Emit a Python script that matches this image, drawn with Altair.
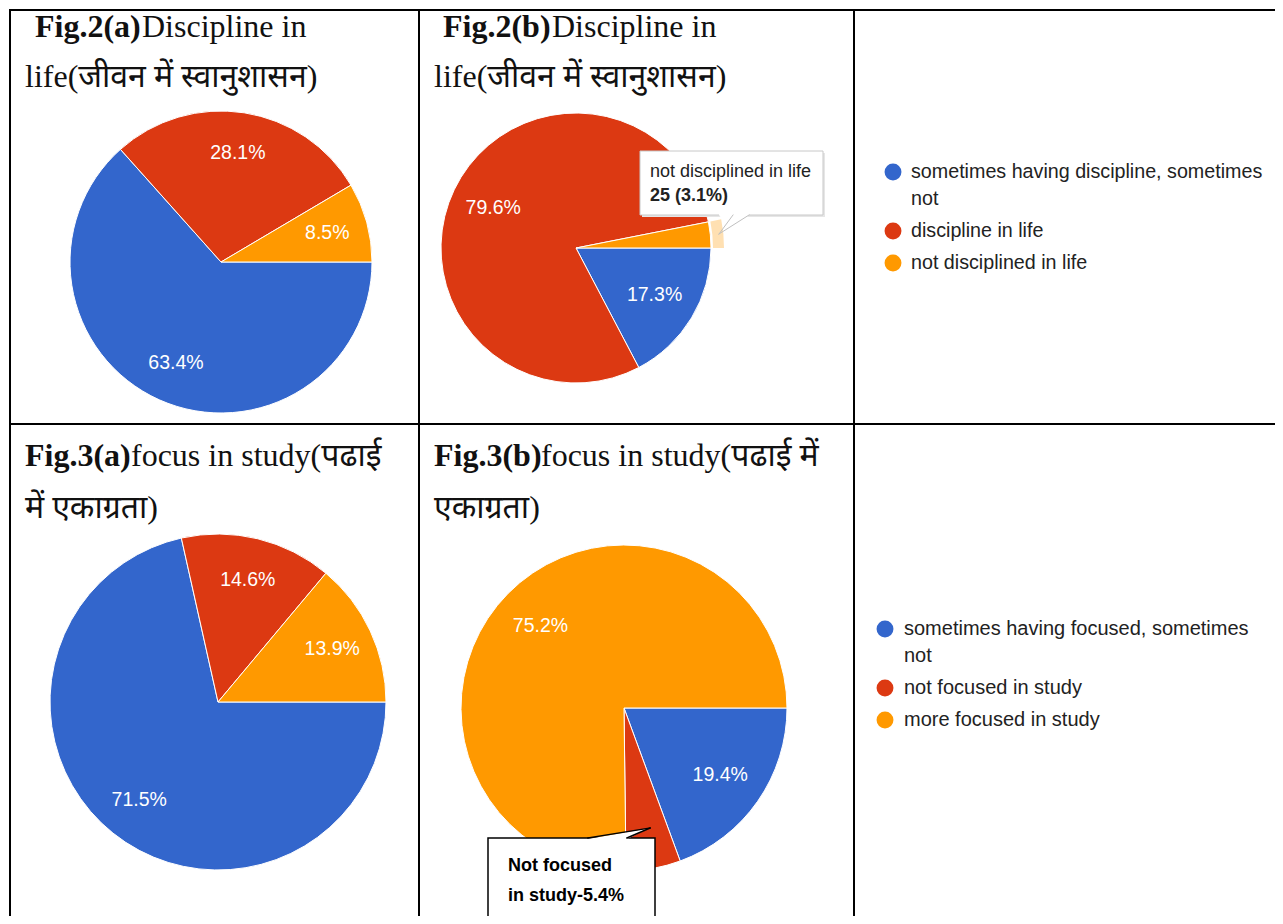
import math
import textwrap
import altair as alt
import pandas as pd

# ---------------- data ----------------
cats_discipline = ["sometimes having discipline, sometimes not",
                   "discipline in life",
                   "not disciplined in life"]
pct_2a = [63.4, 28.1, 8.5]
pct_2b = [17.3, 79.6, 3.1]
count_2b_tooltip = 25          # responses "not disciplined in life" (Fig.2b tooltip)
tooltip_2b_index = 2

cats_focus = ["sometimes having focused, sometimes not",
              "not focused in study",
              "more focused in study"]
pct_3a = [71.5, 14.6, 13.9]
pct_3b = [19.4, 5.4, 75.2]
callout_3b_index = 1

slice_colors = ["#3366cc", "#dc3912", "#ff9900"]

title_2a = ["Fig.2(a)", "Discipline in", "life(जीवन में स्वानुशासन)"]
title_2b = ["Fig.2(b)", "Discipline in", "life(जीवन में स्वानुशासन)"]
title_3a = ["Fig.3(a)", "focus in study(पढाई", "में एकाग्रता)"]
title_3b = ["Fig.3(b)", "focus in study(पढाई में", "एकाग्रता)"]

# ---------------- layout ----------------
OFF = 8
W, H = 1267, 908
SERIF = "Liberation Serif, Times New Roman, Noto Sans Devanagari, serif"
SANS = "Liberation Sans, Arial, sans-serif"
THETA = alt.Scale(domain=[0, 100], range=[math.pi / 2, math.pi / 2 + 2 * math.pi])

one = pd.DataFrame({"k": [0]})


def X(v):
    return alt.value(v - OFF)


def txt(s, x, y, size, weight="normal", font=SANS, color="#000000", **kw):
    return alt.Chart(pd.DataFrame({"t": [s]})).mark_text(
        align="left", baseline="alphabetic", font=font, fontSize=size,
        fontWeight=weight, color=color, **kw
    ).encode(text="t:N", x=X(x), y=X(y))


def rule(x1, y1, x2, y2, color="#000000", w=2):
    return alt.Chart(one).mark_rule(color=color, strokeWidth=w, strokeCap="square").encode(
        x=X(x1), x2=X(x2), y=X(y1), y2=X(y2))


def box(x1, y1, x2, y2, fill, stroke=None, w=1):
    kw = dict(fill=fill)
    if stroke:
        kw.update(stroke=stroke, strokeWidth=w)
    return alt.Chart(one).mark_rect(**kw).encode(x=X(x1), x2=X(x2), y=X(y1), y2=X(y2))


def wedge(path, x, y):
    # custom symbol; size=4 makes one path unit equal one pixel
    return alt.Chart(one).mark_point(shape=path, size=4, filled=True, fill="white",
                                     strokeWidth=0, opacity=1).encode(x=X(x), y=X(y))


def pie_df(cats, pcts):
    rows, cum = [], 0.0
    for i, (c, p) in enumerate(zip(cats, pcts)):
        rows.append(dict(idx=i, cat=c, pct=p, start=cum, end=cum + p,
                         mid=cum + p / 2, label=f"{p}%", color=slice_colors[i]))
        cum += p
    return pd.DataFrame(rows)


def pie(cats, pcts, cx, cy, r, label_frac):
    df = pie_df(cats, pcts)
    base = alt.Chart(df)
    arcs = base.mark_arc(outerRadius=r, stroke="white", strokeWidth=1).encode(
        theta=alt.Theta("start:Q", scale=THETA, stack=False),
        theta2="end:Q",
        color=alt.Color("color:N", scale=None),
        x=X(cx), y=X(cy))
    labels = base.transform_filter("datum.pct >= 6").mark_text(
        radius=r * label_frac, font=SANS, fontSize=19.5, color="white",
        align="center", baseline="middle").encode(
        theta=alt.Theta("mid:Q", scale=THETA, stack=False),
        text="label:N", x=X(cx), y=X(cy))
    return df, arcs, labels


def legend(cats, xc, xt, y0, size):
    rows, y = [], y0
    for i, c in enumerate(cats):
        lines = textwrap.wrap(c, 38)
        for k, ln in enumerate(lines):
            rows.append(dict(line=ln, ly=y + 27 * k - OFF, dot=(k == 0), color=slice_colors[i]))
        y += 32 + 27 * (len(lines) - 1)
    df = pd.DataFrame(rows)
    dots = alt.Chart(df).transform_filter("datum.dot").mark_circle(size=285, opacity=1).encode(
        x=X(xc), y=alt.Y("ly:Q", scale=None, axis=None), color=alt.Color("color:N", scale=None))
    words = alt.Chart(df).mark_text(align="left", baseline="middle", font=SANS,
                                    fontSize=size, color="#222222").encode(
        x=X(xt), y=alt.Y("ly:Q", scale=None, axis=None), text="line:N")
    return [dots, words]


layers = []

# table borders
layers += [
    rule(10, 10, 1283, 10), rule(10, 10, 10, 924),
    rule(419, 10, 419, 924), rule(854, 10, 854, 924),
    rule(10, 424, 1283, 424),
]

# titles
for t, (xb, xr, x2, y1, y2) in [
    (title_2a, (35, 142, 25, 37, 87)),
    (title_2b, (443, 552, 434, 37, 87)),
    (title_3a, (25, 131, 25, 466, 518)),
    (title_3b, (434, 541, 434, 466, 518)),
]:
    layers += [txt(t[0], xb, y1, 32, "bold", SERIF, "#111111"),
               txt(t[1], xr, y1, 32, "normal", SERIF, "#111111"),
               txt(t[2], x2, y2, 32, "normal", SERIF, "#111111")]

# pies
df2a, a2a, l2a = pie(cats_discipline, pct_2a, 221, 262, 151, 0.73)
df2b, a2b, l2b = pie(cats_discipline, pct_2b, 576, 248, 135, 0.68)
df3a, a3a, l3a = pie(cats_focus, pct_3a, 218, 702, 168, 0.75)
df3b, a3b, l3b = pie(cats_focus, pct_3b, 624, 708, 163, 0.72)

# hover ring on highlighted slice of Fig.2(b)
ring = alt.Chart(df2b).transform_filter(f"datum.idx == {tooltip_2b_index}").mark_arc(
    innerRadius=137, outerRadius=148, color="#ffe0b2").encode(
    theta=alt.Theta("start:Q", scale=THETA, stack=False), theta2="end:Q",
    x=X(576), y=X(248))

layers += [a2a, a2b, ring, a3a, a3b, l2a, l2b, l3a, l3b]

# tooltip of Fig.2(b)
tip_cat = cats_discipline[tooltip_2b_index]
tip_val = f"{count_2b_tooltip} ({pct_2b[tooltip_2b_index]}%)"
layers += [
    box(642, 153, 825, 217, "#e6e6e6"),
    box(640, 151, 823, 215, "white", "#c8c8c8", 1),
    wedge("M -14 -1 L -14 0 L 0 19 L 16 0 L 16 -1 Z", 733, 215),
    rule(733, 215, 719, 234, "#c0c0c0", 1),
    rule(719, 234, 749, 215, "#c0c0c0", 1),
    txt(tip_cat, 650, 177, 18, color="#222222"),
    txt(tip_val, 650, 201, 18, "bold", color="#222222"),
]

# callout of Fig.3(b)
layers += [
    box(488, 838, 655, 930, "white", "#000000", 1.5),
    wedge("M -39 1 L 23 -10 L 0 1 Z", 627, 838),
    rule(588, 838, 650, 828, "#000000", 1.5),
    rule(650, 828, 627, 838, "#000000", 1.5),
    txt("Not focused", 508, 871, 18, "bold", color="#000000"),
    txt(f"in study-{pct_3b[callout_3b_index]}%", 508, 901, 18, "bold", color="#000000"),
]

# legends
layers += legend(cats_discipline, 893, 911, 172, 19.7)
layers += legend(cats_focus, 885, 904, 629, 20)

chart = alt.layer(*layers).properties(
    width=W, height=H, padding=0, autosize="none"
).configure_view(stroke=None)

chart.save("out.html", embed_options={"renderer": "svg", "actions": False})
